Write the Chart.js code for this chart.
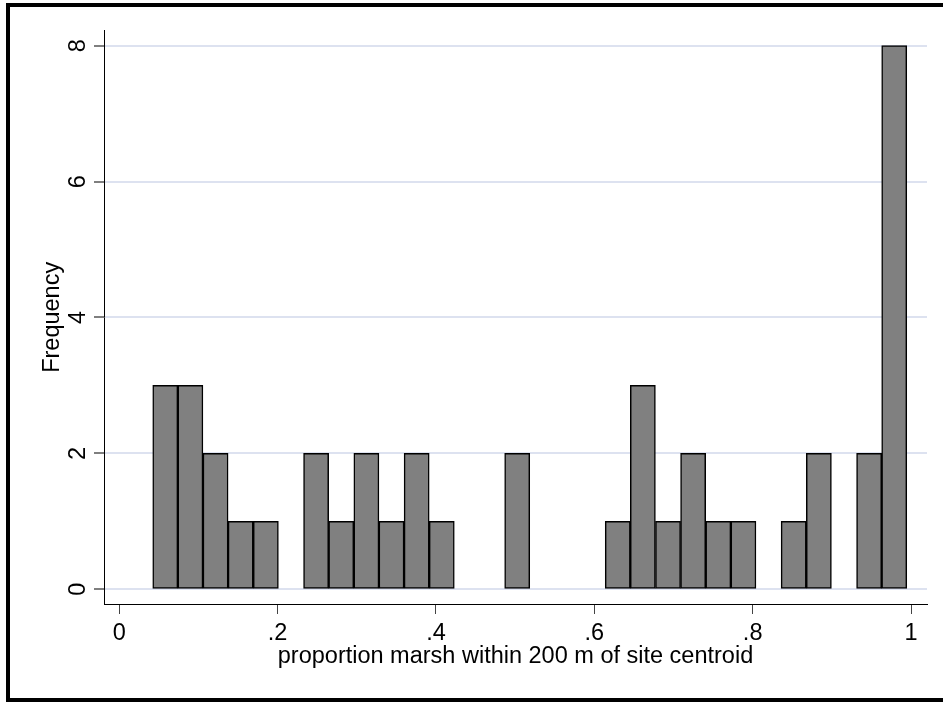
<!DOCTYPE html>
<html>
<head>
<meta charset="utf-8">
<script src="https://cdn.jsdelivr.net/npm/chart.js@4.4.1/dist/chart.umd.min.js"></script>
<style>
    html, body { margin: 0; padding: 0; background: #fff; }
    #wrap { position: relative; width: 943px; height: 702px; overflow: hidden; }
    #frame {
        position: absolute; left: 6px; top: 3px; width: 960px; height: 691px;
        border: 4px solid #000; border-right: none; pointer-events: none;
    }
</style>
</head>
<body>
<div id="wrap">
    <canvas id="myChart"></canvas>
    <div id="frame"></div>
</div>
<script>
// bin midpoints (proportion marsh) and counts per bin
const binMids = [
    0.0581, 0.0898, 0.1216, 0.1533, 0.1851, 0.2168, 0.2486, 0.2803, 0.3121, 0.3438,
    0.3756, 0.4073, 0.4391, 0.4708, 0.5026, 0.5343, 0.5661, 0.5978, 0.6296, 0.6613,
    0.6931, 0.7248, 0.7566, 0.7883, 0.8201, 0.8518, 0.8836, 0.9153, 0.9471, 0.9788
];
const frequencies = [
    3, 3, 2, 1, 1, 0, 2, 1, 2, 1,
    2, 1, 0, 0, 2, 0, 0, 0, 1, 3,
    1, 2, 1, 1, 0, 1, 2, 0, 2, 8
];
const xTickValues = [0, 0.2, 0.4, 0.6, 0.8, 1];
const xTickLabels = ['0', '.2', '.4', '.6', '.8', '1'];
const yTickValues = [0, 2, 4, 6, 8];

document.addEventListener("DOMContentLoaded", function() {
    const ctx = document.getElementById('myChart').getContext('2d');

    const axisFont = { family: "'Liberation Sans', Arial, sans-serif", size: 23.5 };

    const data = {
        datasets: [
            {
                label: 'Frequency',
                data: binMids.map((m, i) => ({ x: m, y: frequencies[i] })),
                backgroundColor: '#808080',
                borderColor: '#000000',
                borderWidth: 1.5,
                borderSkipped: false,
                barPercentage: 1,
                categoryPercentage: 1
            }
        ]
    };

    const config = {
        type: 'bar',
        data: data,
        options: {
            responsive: true,
            maintainAspectRatio: false,
            animation: false,
            layout: {
                padding: { left: 14, right: 16, top: 30.7, bottom: 20 }
            },
            plugins: {
                legend: { display: false },
                tooltip: { enabled: false }
            },
            scales: {
                x: {
                    type: 'linear',
                    min: -0.0193,
                    max: 1.0202,
                    offset: false,
                    afterBuildTicks: (s) => { s.ticks = xTickValues.map(v => ({ value: v })); },
                    afterFit: (s) => { s.height = 78; },
                    grid: {
                        drawOnChartArea: false,
                        offset: false,
                        tickLength: 10,
                        tickColor: '#444',
                        tickWidth: 1
                    },
                    border: { display: true, color: '#000', width: 1 },
                    ticks: {
                        font: axisFont,
                        color: '#000',
                        padding: 5,
                        maxRotation: 0,
                        autoSkip: false,
                        callback: (v) => xTickLabels[xTickValues.indexOf(v)]
                    },
                    title: {
                        display: true,
                        text: 'proportion marsh within 200 m of site centroid',
                        font: axisFont,
                        color: '#000',
                        padding: { top: 0, bottom: 11 }
                    }
                },
                y: {
                    min: -0.2163,
                    max: 8.2207,
                    afterBuildTicks: (s) => { s.ticks = yTickValues.map(v => ({ value: v })); },
                    afterFit: (s) => { s.width = 90; },
                    grid: {
                        color: '#dde2f0',
                        lineWidth: 2,
                        tickLength: 10,
                        tickColor: '#555',
                        tickWidth: 1.5
                    },
                    border: { display: true, color: '#000', width: 1 },
                    ticks: {
                        font: axisFont,
                        color: '#000',
                        padding: 9,
                        minRotation: 90,
                        maxRotation: 90,
                        crossAlign: 'center',
                        autoSkip: false
                    },
                    title: {
                        display: true,
                        text: 'Frequency',
                        font: axisFont,
                        color: '#000',
                        padding: { top: 24.5, bottom: 0 }
                    }
                }
            }
        }
    };

    const myChart = new Chart(ctx, config);
});
</script>
</body>
</html>
